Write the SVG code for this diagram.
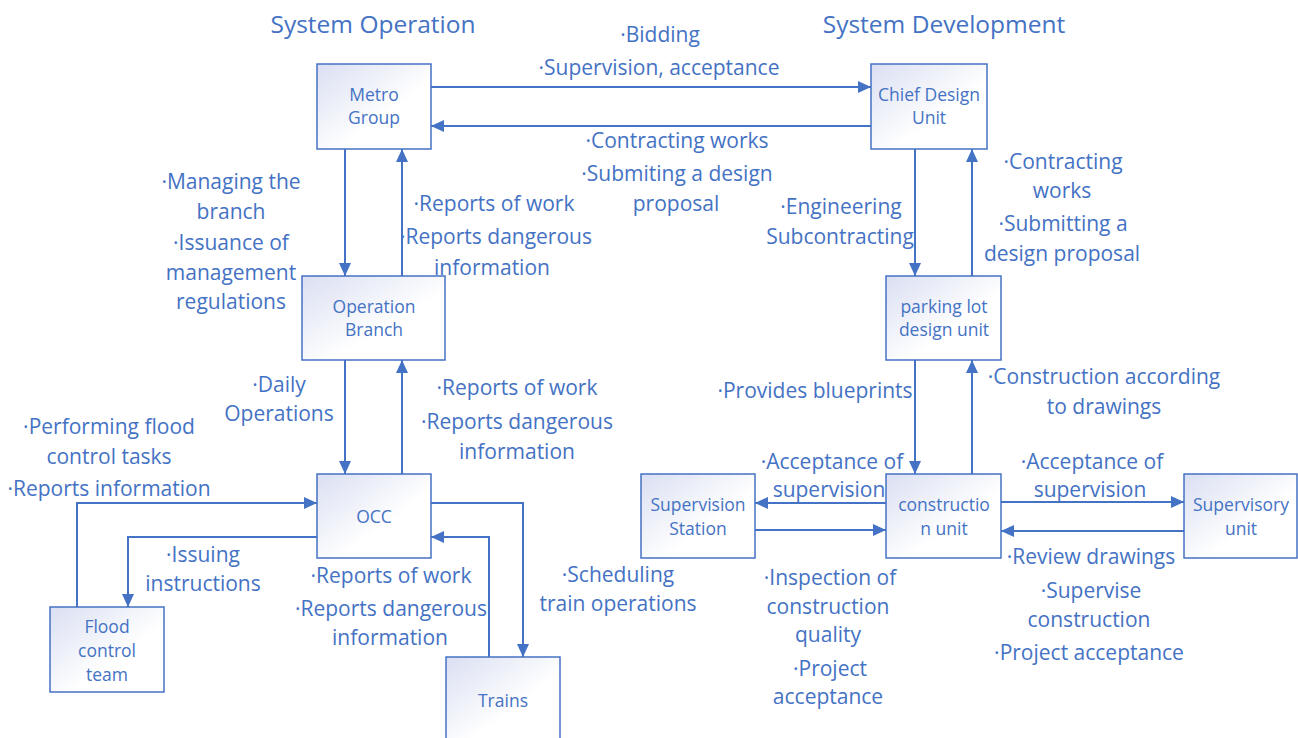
<svg xmlns="http://www.w3.org/2000/svg" width="1298" height="738" viewBox="0 0 1298 738">
<style>
.box{fill:url(#g);stroke:#4472C4;stroke-width:1.5}
.nt{font-family:"Open Sans","Liberation Sans",sans-serif;font-size:17.5px;fill:#4472C4;text-anchor:middle}
.lb{font-family:"Open Sans","Liberation Sans",sans-serif;font-size:21px;fill:#4472C4;text-anchor:middle}
.tt{font-family:"Open Sans","Liberation Sans",sans-serif;font-size:24.5px;fill:#4472C4;text-anchor:middle}
.c{fill:none;stroke:#4472C4;stroke-width:2;marker-end:url(#a)}
</style>
<defs>
<linearGradient id="g" x1="0" y1="0" x2="1" y2="1">
<stop offset="0" stop-color="#dadff2"/>
<stop offset="0.6" stop-color="#ffffff"/>
</linearGradient>
<marker id="a" markerUnits="userSpaceOnUse" markerWidth="13" markerHeight="12" refX="13" refY="6" orient="auto">
<path d="M0,0 L13,6 L0,12 z" fill="#4472C4"/>
</marker>
</defs>
<rect width="1298" height="738" fill="#ffffff"/>
<text class="tt" x="373" y="33">System Operation</text>
<text class="tt" x="944" y="33">System Development</text>
<g id="connectors">
<path class="c" d="M431,87 H871"/>
<path class="c" d="M871,126 H431"/>
<path class="c" d="M345,149 V276"/>
<path class="c" d="M402,276 V149"/>
<path class="c" d="M345,360 V474"/>
<path class="c" d="M402,474 V360"/>
<path class="c" d="M915,149 V276"/>
<path class="c" d="M972,276 V149"/>
<path class="c" d="M915,360 V474"/>
<path class="c" d="M972,474 V360"/>
<path class="c" d="M886,503 H755"/>
<path class="c" d="M755,530 H886"/>
<path class="c" d="M1001,502 H1184"/>
<path class="c" d="M1184,531 H1001"/>
<path class="c" d="M431,503 H523 V657"/>
<path class="c" d="M489,657 V537 H431"/>
<path class="c" d="M77,607 V503 H317"/>
<path class="c" d="M317,537 H128 V607"/>
</g>
<g id="labels">
<text class="lb" x="660" y="42">·Bidding</text>
<text class="lb" x="659" y="75">·Supervision, acceptance</text>
<text class="lb" x="677" y="148">·Contracting works</text>
<text class="lb" x="677" y="181">·Submiting a design</text>
<text class="lb" x="676" y="211">proposal</text>
<text class="lb" x="231" y="189">·Managing the</text>
<text class="lb" x="231" y="219">branch</text>
<text class="lb" x="231" y="250">·Issuance of</text>
<text class="lb" x="231" y="280">management</text>
<text class="lb" x="231" y="309">regulations</text>
<text class="lb" x="494" y="211">·Reports of work</text>
<text class="lb" x="496" y="244">·Reports dangerous</text>
<text class="lb" x="492" y="275">information</text>
<text class="lb" x="841" y="214">·Engineering</text>
<text class="lb" x="840" y="244">Subcontracting</text>
<text class="lb" x="1063" y="169">·Contracting</text>
<text class="lb" x="1062" y="198">works</text>
<text class="lb" x="1063" y="231">·Submitting a</text>
<text class="lb" x="1062" y="261">design proposal</text>
<text class="lb" x="279" y="392">·Daily</text>
<text class="lb" x="279" y="421">Operations</text>
<text class="lb" x="517" y="395">·Reports of work</text>
<text class="lb" x="517" y="429">·Reports dangerous</text>
<text class="lb" x="517" y="459">information</text>
<text class="lb" x="109" y="434">·Performing flood</text>
<text class="lb" x="109" y="464">control tasks</text>
<text class="lb" x="109" y="496">·Reports information</text>
<text class="lb" x="203" y="562">·Issuing</text>
<text class="lb" x="203" y="591">instructions</text>
<text class="lb" x="391" y="583">·Reports of work</text>
<text class="lb" x="391" y="616">·Reports dangerous</text>
<text class="lb" x="390" y="645">information</text>
<text class="lb" x="618" y="582">·Scheduling</text>
<text class="lb" x="618" y="611">train operations</text>
<text class="lb" x="815" y="398">·Provides blueprints</text>
<text class="lb" x="1104" y="384">·Construction according</text>
<text class="lb" x="1104" y="414">to drawings</text>
<text class="lb" x="832" y="469">·Acceptance of</text>
<text class="lb" x="829" y="497">supervision</text>
<text class="lb" x="1092" y="469">·Acceptance of</text>
<text class="lb" x="1090" y="497">supervision</text>
<text class="lb" x="1091" y="564">·Review drawings</text>
<text class="lb" x="1091" y="598">·Supervise</text>
<text class="lb" x="1089" y="627">construction</text>
<text class="lb" x="1089" y="660">·Project acceptance</text>
<text class="lb" x="830" y="585">·Inspection of</text>
<text class="lb" x="828" y="614">construction</text>
<text class="lb" x="828" y="642">quality</text>
<text class="lb" x="830" y="676">·Project</text>
<text class="lb" x="828" y="704">acceptance</text>
</g>
<g id="metro-group"><rect class="box" x="317" y="64" width="114" height="85"/><text class="nt" x="374" y="101">Metro</text><text class="nt" x="374" y="124">Group</text></g>
<g id="chief-design-unit"><rect class="box" x="871" y="64" width="116" height="85"/><text class="nt" x="929" y="101">Chief Design</text><text class="nt" x="929" y="124">Unit</text></g>
<g id="operation-branch"><rect class="box" x="302" y="276" width="143" height="84"/><text class="nt" x="374" y="313">Operation</text><text class="nt" x="374" y="336">Branch</text></g>
<g id="parking-lot-design-unit"><rect class="box" x="886" y="276" width="115" height="84"/><text class="nt" x="944" y="313">parking lot</text><text class="nt" x="944" y="336">design unit</text></g>
<g id="occ"><rect class="box" x="317" y="474" width="114" height="84"/><text class="nt" x="374" y="523">OCC</text></g>
<g id="supervision-station"><rect class="box" x="641" y="474" width="114" height="84"/><text class="nt" x="698" y="511">Supervision</text><text class="nt" x="698" y="535">Station</text></g>
<g id="construction-unit"><rect class="box" x="886" y="474" width="115" height="84"/><text class="nt" x="944" y="511">constructio</text><text class="nt" x="944" y="535">n unit</text></g>
<g id="supervisory-unit"><rect class="box" x="1184" y="474" width="113" height="84"/><text class="nt" x="1241" y="511">Supervisory</text><text class="nt" x="1241" y="535">unit</text></g>
<g id="flood-control-team"><rect class="box" x="50" y="607" width="114" height="85"/><text class="nt" x="107" y="633">Flood</text><text class="nt" x="107" y="657">control</text><text class="nt" x="107" y="681">team</text></g>
<g id="trains"><rect class="box" x="446" y="657" width="114" height="85"/><text class="nt" x="503" y="707">Trains</text></g>
</svg>
